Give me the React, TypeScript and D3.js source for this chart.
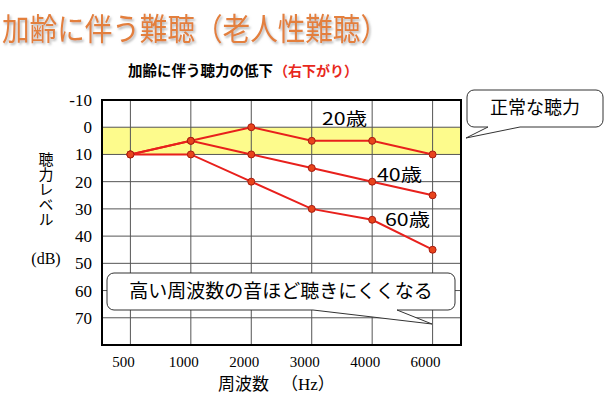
import React from 'react';
import * as d3 from 'd3';

const frequencies = ['500', '1000', '2000', '3000', '4000', '6000'];
const age20 = [10, 5, 0, 5, 5, 10];
const age40 = [10, 5, 10, 15, 20, 25];
const age60 = [10, 10, 20, 30, 34, 45];
const seriesNames = ['20歳', '40歳', '60歳'];
const yTicks = [-10, 0, 10, 20, 30, 40, 50, 60, 70];
const normalRange = [0, 10];

const W = 613;
const H = 404;
const plot = { left: 102, right: 461, top: 100, bottom: 345 };

const JP = '"Noto Sans CJK JP", "Noto Sans", sans-serif';
const SERIF = '"Liberation Serif", "DejaVu Serif", "Noto Sans CJK JP", serif';

export default function App() {
  const x = d3.scalePoint<string>().domain(frequencies).range([plot.left, plot.right]).padding(0.47);
  const y = d3.scaleLinear().domain([-10, 80]).range([plot.top, plot.bottom]);

  const line = d3
    .line<number>()
    .x((_, i) => x(frequencies[i]) as number)
    .y((d) => y(d));

  const series = [age20, age40, age60];

  // rounded callout box with a tail on its bottom edge
  const bubble = (x0: number, y0: number, x1: number, y1: number, r: number, ta: number, tb: number, tx: number, ty: number) => {
    const p = d3.path();
    p.moveTo(x0 + r, y0);
    p.lineTo(x1 - r, y0);
    p.arcTo(x1, y0, x1, y0 + r, r);
    p.lineTo(x1, y1 - r);
    p.arcTo(x1, y1, x1 - r, y1, r);
    p.lineTo(tb, y1);
    p.lineTo(tx, ty);
    p.lineTo(ta, y1);
    p.lineTo(x0 + r, y1);
    p.arcTo(x0, y1, x0, y1 - r, r);
    p.lineTo(x0, y0 + r);
    p.arcTo(x0, y0, x0 + r, y0, r);
    p.closePath();
    return p.toString();
  };

  return (
    <svg width={W} height={H} style={{ position: 'absolute', left: 0, top: 0, background: '#fff' }}>
      <defs>
        <filter id="shadow" x="-5%" y="-20%" width="110%" height="150%">
          <feDropShadow dx="1.5" dy="2" stdDeviation="1.2" floodColor="#999" floodOpacity="0.7" />
        </filter>
      </defs>

      <text
        x={2}
        y={40}
        fontFamily={JP}
        fontSize={31}
        fill="#e37f3c"
        filter="url(#shadow)"
        textLength={386}
        lengthAdjust="spacingAndGlyphs"
      >
        加齢に伴う難聴（老人性難聴）
      </text>

      <text x={128} y={76} fontFamily={JP} fontSize={14.5} fontWeight="bold" fill="#000">
        加齢に伴う聴力の低下
      </text>
      <text x={274} y={76} fontFamily={JP} fontSize={14} fontWeight="bold" fill="#e8281c">
        （右下がり）
      </text>

      {/* normal band */}
      <rect
        x={plot.left}
        y={y(normalRange[0])}
        width={plot.right - plot.left}
        height={y(normalRange[1]) - y(normalRange[0])}
        fill="#fdfb8c"
      />

      {/* grid */}
      {yTicks.slice(1).map((t) => (
        <line key={t} x1={plot.left} x2={plot.right} y1={y(t)} y2={y(t)} stroke="#555" strokeWidth={1} />
      ))}
      {frequencies.map((f) => (
        <line key={f} x1={x(f)} x2={x(f)} y1={plot.top} y2={plot.bottom} stroke="#555" strokeWidth={1} />
      ))}

      <rect
        x={plot.left}
        y={plot.top}
        width={plot.right - plot.left}
        height={plot.bottom - plot.top}
        fill="none"
        stroke="#000"
        strokeWidth={2}
      />

      {/* y tick labels */}
      {yTicks.map((t) => (
        <text key={t} x={92} y={y(t)} dy="0.35em" textAnchor="end" fontFamily={SERIF} fontSize={17}>
          {t}
        </text>
      ))}

      {/* x tick labels */}
      {frequencies.map((f) => (
        <text key={f} x={x(f)} dx={-7} y={367} textAnchor="middle" fontFamily={SERIF} fontSize={15}>
          {f}
        </text>
      ))}

      <text x={218} y={390} fontFamily={SERIF} fontSize={17}>
        <tspan fontFamily={JP}>周波数</tspan>
        <tspan dx={12}>（Hz）</tspan>
      </text>

      {/* y axis title, vertical */}
      <text x={46} y={152} fontFamily={JP} fontSize={15} style={{ writingMode: 'vertical-rl' }}>
        聴力レベル
      </text>
      <text x={46} y={258} dy="0.35em" textAnchor="middle" fontFamily={SERIF} fontSize={16}>
        (dB)
      </text>

      {/* series */}
      {series.map((s, k) => (
        <path key={k} d={line(s) as string} fill="none" stroke="#e8201c" strokeWidth={2} />
      ))}
      {series.map((s, k) =>
        s.map((v, i) => (
          <circle key={`${k}-${i}`} cx={x(frequencies[i])} cy={y(v)} r={3.5} fill="#e8441c" stroke="#a81c10" strokeWidth={1} />
        ))
      )}

      {/* series labels */}
      <text x={322} y={y(-3)} dy="0.35em" fontFamily={JP} fontSize={17} textLength={45} lengthAdjust="spacingAndGlyphs">
        {seriesNames[0]}
      </text>
      <text x={377} y={y(17.5)} dy="0.35em" fontFamily={JP} fontSize={17} textLength={45} lengthAdjust="spacingAndGlyphs">
        {seriesNames[1]}
      </text>
      <text x={385} y={y(34)} dy="0.35em" fontFamily={JP} fontSize={17} textLength={45} lengthAdjust="spacingAndGlyphs">
        {seriesNames[2]}
      </text>

      {/* callouts */}
      <path d={bubble(467, 90, 603, 127, 7, 488, 520, 466, 138)} fill="#fff" stroke="#333" strokeWidth={1} />
      <text x={535} y={108} dy="0.35em" textAnchor="middle" fontFamily={JP} fontSize={18}>
        正常な聴力
      </text>

      <path d={bubble(107, 273, 455, 310, 7, 313, 397, 432, 324)} fill="#fff" stroke="#333" strokeWidth={1} />
      <text x={281} y={291} dy="0.35em" textAnchor="middle" fontFamily={JP} fontSize={19}>
        高い周波数の音ほど聴きにくくなる
      </text>
    </svg>
  );
}
